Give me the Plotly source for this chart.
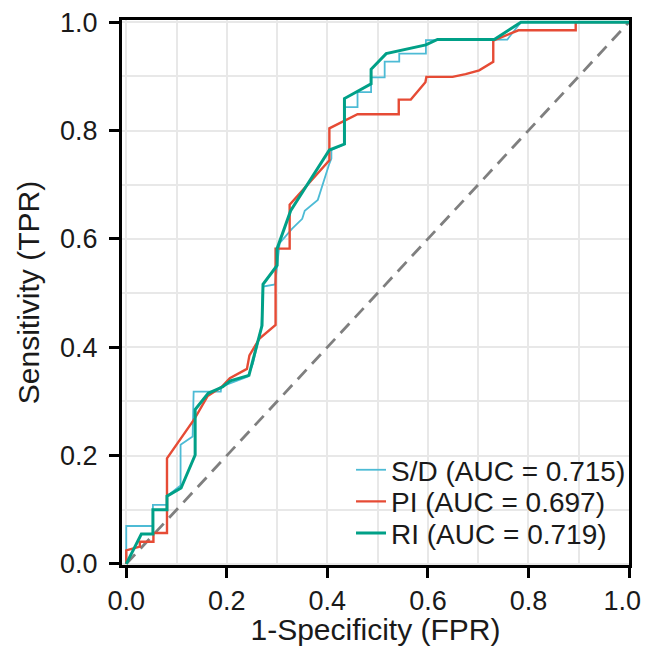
import plotly.graph_objects as go

# ROC curve points (FPR, TPR)
sd_fpr = [0.0, 0.0, 0.053, 0.053, 0.081, 0.081, 0.108, 0.108, 0.132, 0.134, 0.188, 0.189,
          0.242, 0.252, 0.269, 0.272, 0.296, 0.300, 0.305, 0.330, 0.350, 0.355, 0.381,
          0.404, 0.408, 0.408, 0.434, 0.434, 0.460, 0.460, 0.487, 0.487, 0.514, 0.514,
          0.543, 0.543, 0.596, 0.596, 0.735, 0.758, 0.785, 1.0]
sd_tpr = [0.0, 0.070, 0.070, 0.109, 0.109, 0.125, 0.145, 0.220, 0.235, 0.318, 0.318, 0.327,
          0.346, 0.370, 0.438, 0.512, 0.516, 0.551, 0.592, 0.619, 0.637, 0.652, 0.672,
          0.739, 0.748, 0.764, 0.775, 0.843, 0.843, 0.871, 0.871, 0.898, 0.898, 0.927,
          0.927, 0.942, 0.942, 0.967, 0.967, 0.968, 1.0, 1.0]

pi_fpr = [0.0, 0.0, 0.027, 0.027, 0.054, 0.054, 0.081, 0.081, 0.136, 0.162, 0.190, 0.206,
          0.240, 0.245, 0.265, 0.297, 0.297, 0.325, 0.325, 0.404, 0.404, 0.460, 0.542,
          0.542, 0.566, 0.595, 0.597, 0.649, 0.675, 0.702, 0.730, 0.730, 0.780, 0.894,
          0.894, 1.0]
pi_tpr = [0.0, 0.025, 0.032, 0.041, 0.041, 0.057, 0.057, 0.195, 0.268, 0.310, 0.327, 0.343,
          0.360, 0.385, 0.416, 0.441, 0.582, 0.582, 0.663, 0.745, 0.804, 0.830, 0.830,
          0.857, 0.857, 0.889, 0.899, 0.899, 0.904, 0.911, 0.927, 0.966, 0.985, 0.985,
          1.0, 1.0]

ri_fpr = [0.0, 0.030, 0.053, 0.053, 0.081, 0.081, 0.109, 0.137, 0.137, 0.163, 0.192, 0.207,
          0.244, 0.260, 0.270, 0.272, 0.300, 0.300, 0.327, 0.404, 0.434, 0.434, 0.487,
          0.487, 0.517, 0.596, 0.619, 0.732, 0.785, 1.0]
ri_tpr = [0.0, 0.055, 0.055, 0.100, 0.100, 0.125, 0.140, 0.201, 0.285, 0.315, 0.327, 0.338,
          0.348, 0.404, 0.440, 0.516, 0.551, 0.582, 0.652, 0.764, 0.775, 0.859, 0.886,
          0.913, 0.942, 0.958, 0.968, 0.968, 1.0, 1.0]

series_names = ["S/D (AUC = 0.715)", "PI (AUC = 0.697)", "RI (AUC = 0.719)"]
colors = ["#4DBBD5", "#E64B35", "#00A087"]
widths = [1.8, 2.4, 3.0]

tick_vals = [0.0, 0.2, 0.4, 0.6, 0.8, 1.0]
y_tick_text = ["0.0", "0.2", "0.4", "0.6", "0.8", "1.0"]
# trailing en space pulls the last x label in from the page edge
x_tick_text = ["0.0", "0.2", "0.4", "0.6", "0.8", "1.0\u2002"]

font_family = "Arial, Liberation Sans, sans-serif"
txt_col = "#1A1A1A"
grid_col = "#E8E8E8"

fig = go.Figure()

# chance line
fig.add_trace(go.Scatter(x=[0, 1], y=[0, 1], mode="lines", showlegend=False,
                         line=dict(color="#7F7F7F", width=2.8, dash="13px,8px"),
                         hoverinfo="skip"))

# one legend per curve so the rows can sit as tight as in the reference
legend_ids = ["legend", "legend2", "legend3"]
legend_y = [0.1742, 0.1162, 0.0580]

for xs, ys, name, c, w, lg in zip([sd_fpr, pi_fpr, ri_fpr], [sd_tpr, pi_tpr, ri_tpr],
                                  series_names, colors, widths, legend_ids):
    fig.add_trace(go.Scatter(x=xs, y=ys, mode="lines", name=name, legend=lg,
                             line=dict(color=c, width=w)))

axis_common = dict(
    showline=True, linecolor="black", linewidth=3, mirror=True,
    ticks="outside", ticklen=10, tickwidth=2.5, tickcolor="black",
    tickmode="array", tickvals=tick_vals,
    showgrid=True, gridcolor=grid_col, gridwidth=2,
    minor=dict(dtick=0.1, tick0=0, showgrid=True, gridcolor=grid_col, gridwidth=2, ticks=""),
    zeroline=False, automargin=False, ticklabeloverflow="allow",
    tickfont=dict(size=27, color=txt_col),
)

fig.update_xaxes(range=[-0.0085, 1.0], ticktext=x_tick_text,
                 title=dict(text="1-Specificity (FPR)",
                            font=dict(size=30, color=txt_col), standoff=5), **axis_common)
fig.update_yaxes(range=[-0.002, 1.004], ticktext=y_tick_text, ticklabelstandoff=6,
                 title=dict(text="Sensitivity (TPR)",
                            font=dict(size=30, color=txt_col), standoff=12), **axis_common)

legend_style = dict(x=0.4517, xanchor="left", yanchor="middle",
                    bgcolor="rgba(0,0,0,0)", borderwidth=0,
                    font=dict(size=28, color=txt_col))

# the page body adds an 8px margin; keep the page from scrolling
fig.update_layout(
    width=643, height=638,
    margin=dict(l=114, r=22, t=12, b=81),
    paper_bgcolor="white", plot_bgcolor="white",
    font=dict(family=font_family, color=txt_col),
    legend=dict(y=legend_y[0], **legend_style),
    legend2=dict(y=legend_y[1], **legend_style),
    legend3=dict(y=legend_y[2], **legend_style),
)

fig.write_html("out.html")
